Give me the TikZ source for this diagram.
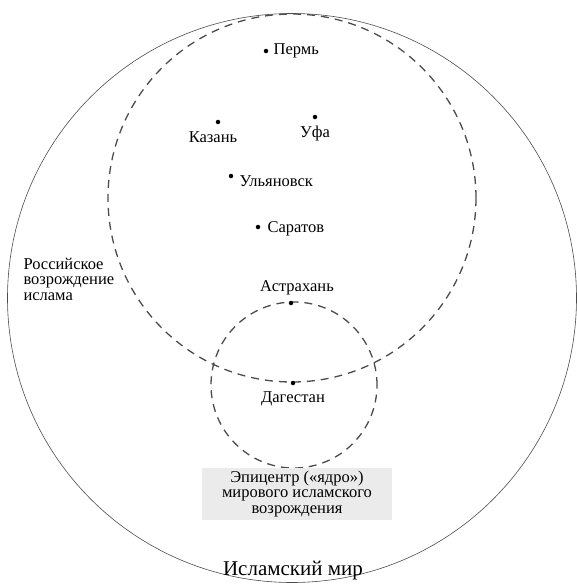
\documentclass[tikz,border=0pt]{standalone}
\usepackage{fontspec}
\setmainfont{Liberation Serif}
\usetikzlibrary{positioning}

\begin{document}
\begin{tikzpicture}
    [
      x=1pt,y=-1pt,
      city/.style={circle,fill=black,inner sep=0pt,minimum size=4.5pt},
      place/.style={inner sep=1pt,font=\fontsize{16.5}{18}\selectfont},
      region/.style={circle,draw=black!70,inner sep=0pt},
      zone/.style={region,dash pattern=on 8pt off 6pt,line width=1.3pt},
      caption/.style={align=center,font=\fontsize{16.5}{15.5}\selectfont},
    ]

    \useasboundingbox (0,0) rectangle (577,587);

    \node (world) [region, semithick, minimum size=569pt] at (292,298) {};
    \node (russia) [zone, minimum size=368pt] at (292,198) {};
    \node (core) [zone, minimum size=166pt] at (294,385) {};

    \node (perm) [city] at (266,51) {};
    \node (kazan) [city] at (218,122) {};
    \node (ufa) [city] at (315,117) {};
    \node (ulyanovsk) [city] at (231,176) {};
    \node (saratov) [city] at (258,227) {};
    \node (astrakhan) [city] at (291,303) {};
    \node (dagestan) [city] at (293,383) {};

    \node (perm-lbl) [place, right=4pt of perm] {Пермь};
    \node (kazan-lbl) [place, below=6pt of kazan, xshift=-5pt] {Казань};
    \node (ufa-lbl) [place, below=5pt of ufa] {Уфа};
    \node (ulyanovsk-lbl) [place, right=5pt of ulyanovsk, yshift=-5pt] {Ульяновск};
    \node (saratov-lbl) [place, right=6pt of saratov, yshift=-2pt] {Саратов};
    \node (astrakhan-lbl) [place, above=4pt of astrakhan, xshift=6pt] {Астрахань};
    \node (dagestan-lbl) [place, below=5pt of dagestan] {Дагестан};

    \node (russia-lbl) [caption, align=left, anchor=west] at (20,279)
      {Российское\\возрождение\\ислама};
    \node (core-lbl) [caption, fill=black!8, minimum width=190pt, minimum height=48pt]
      at (297,494) {Эпицентр («ядро»)\\мирового исламского\\возрождения};
    \node (world-lbl) [font=\fontsize{21}{24}\selectfont, inner sep=1pt] at (293,571)
      {Исламский мир};

  \end{tikzpicture}
\end{document}
